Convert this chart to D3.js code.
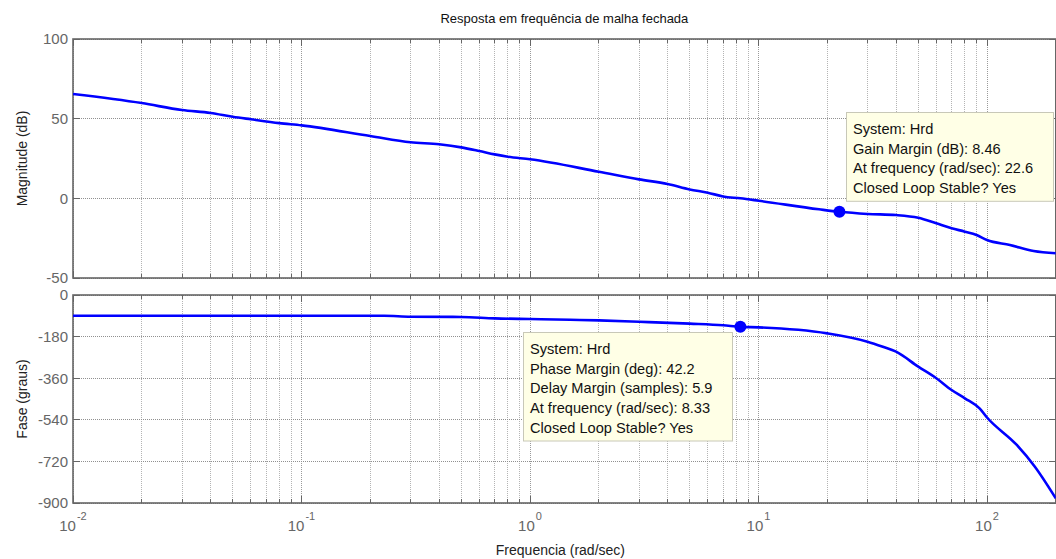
<!DOCTYPE html>
<html>
<head>
<meta charset="utf-8">
<script src="https://cdn.jsdelivr.net/npm/d3@7"></script>
<style>
  html, body { margin: 0; padding: 0; background: #fff; }
  svg { display: block; font-family: "Liberation Sans", Arial, Helvetica, sans-serif; }
</style>
</head>
<body>
<svg id="chart" width="1056" height="559"></svg>
<script>
// Closed-loop frequency response (Bode) of system Hrd
const magFreq  = [0.01, 0.02, 0.03, 0.04, 0.05, 0.06, 0.08, 0.1, 0.2, 0.3, 0.4, 0.5, 0.6, 0.7, 0.8, 1,
                  2, 3, 4, 5, 6, 7, 8.33, 10, 18.4, 22.6, 30, 40, 50, 60, 70, 80, 90, 100, 126, 160, 200];
const magDb    = [65.5, 59.8, 55.4, 53.6, 51.2, 49.6, 47.2, 45.8, 39.1, 35.2, 33.9, 32.0, 29.7, 27.6, 26.1, 24.5,
                  16.7, 11.9, 9.0, 5.6, 3.5, 1.2, 0, -1.5, -6.9, -8.46, -9.8, -10.5, -12.2, -15.7, -18.8, -20.9, -23.0, -26.2, -29.3, -33.1, -34.5];

const phaseFreq = [0.01, 0.1, 0.23, 0.3, 0.5, 0.7, 1, 1.5, 2, 3, 5, 7, 8.33, 10, 20, 30, 35, 40, 50, 60, 70, 80, 93, 100, 135, 162, 200];
const phaseDeg  = [-90, -90, -90, -94, -95, -101, -104, -107, -110, -116, -124, -131, -137.8, -140, -166, -202, -224, -245, -310, -360, -411, -447, -492, -530, -649, -743, -880];

const magTicks   = [-50, 0, 50, 100];
const phaseTicks = [-900, -720, -540, -360, -180, 0];
const decades    = [-2, -1, 0, 1, 2];

const gainMargin  = { freq: 22.6, value: -8.46,
  lines: ["System: Hrd", "Gain Margin (dB): 8.46", "At frequency (rad/sec): 22.6", "Closed Loop Stable? Yes"] };
const phaseMargin = { freq: 8.33, value: -137.8,
  lines: ["System: Hrd", "Phase Margin (deg): 42.2", "Delay Margin (samples): 5.9", "At frequency (rad/sec): 8.33", "Closed Loop Stable? Yes"] };

const titleText = "Resposta em frequência de malha fechada";
const xLabel = "Frequencia  (rad/sec)";
const magLabel = "Magnitude (dB)";
const phaseLabel = "Fase (graus)";

const svg = d3.select("#chart");
const left = 73, right = 1055.8;

const x = d3.scaleLog().domain([0.01, 200]).range([left, right]);
const yMag = d3.scaleLinear().domain([-50, 100]).range([278, 39]);
const yPh  = d3.scaleLinear().domain([-900, 0]).range([503, 295]);

// minor + major log gridlines
const logLines = [];
for (let e = -2; e <= 2; e++) {
  for (let m = 1; m <= 9; m++) {
    const v = m * Math.pow(10, e);
    if (v <= 200) logLines.push({ v, major: m === 1 });
  }
}

function panel(y, ticks, id) {
  const g = svg.append("g");
  const [y0, y1] = y.range(); // bottom, top
  g.append("clipPath").attr("id", id).append("rect")
    .attr("x", left).attr("y", y1).attr("width", right - left).attr("height", y0 - y1);

  // vertical gridlines
  g.selectAll(".vg").data(logLines).join("line")
    .attr("x1", d => x(d.v)).attr("x2", d => x(d.v))
    .attr("y1", y1).attr("y2", y0)
    .attr("stroke", d => d.major ? "#9a9a9a" : "#b4b4b4").attr("stroke-width", 1)
    .attr("stroke-dasharray", "1,1").attr("shape-rendering", "crispEdges");
  // horizontal gridlines
  g.selectAll(".hg").data(ticks).join("line")
    .attr("x1", left).attr("x2", right)
    .attr("y1", d => y(d)).attr("y2", d => y(d))
    .attr("stroke", "#909090").attr("stroke-width", 1)
    .attr("stroke-dasharray", "1,1").attr("shape-rendering", "crispEdges");

  // tick marks on all four sides
  const tk = g.append("g").attr("stroke", "#666").attr("stroke-width", 1).attr("shape-rendering", "crispEdges");
  logLines.forEach(d => {
    const len = d.major ? 7 : 4;
    tk.append("line").attr("x1", x(d.v)).attr("x2", x(d.v)).attr("y1", y1).attr("y2", y1 + len);
    tk.append("line").attr("x1", x(d.v)).attr("x2", x(d.v)).attr("y1", y0).attr("y2", y0 - len);
  });
  ticks.forEach(t => {
    tk.append("line").attr("x1", left).attr("x2", left + 7).attr("y1", y(t)).attr("y2", y(t));
    tk.append("line").attr("x1", right - 7).attr("x2", right).attr("y1", y(t)).attr("y2", y(t));
  });

  // frame
  g.append("rect").attr("x", left).attr("y", y1).attr("width", right - left).attr("height", y0 - y1)
    .attr("fill", "none").attr("stroke", "#666").attr("stroke-width", 1.6);

  // y tick labels
  g.selectAll(".yl").data(ticks).join("text")
    .attr("x", left - 5).attr("y", d => y(d)).attr("dy", "0.36em")
    .attr("text-anchor", "end").attr("font-size", 15).attr("fill", "#666")
    .text(d => d);
  return g;
}

const gMag = panel(yMag, magTicks, "clipMag");
const gPh  = panel(yPh, phaseTicks, "clipPh");

const magLine = d3.line().x(d => x(d[0])).y(d => yMag(d[1])).curve(d3.curveMonotoneX);
const phLine  = d3.line().x(d => x(d[0])).y(d => yPh(d[1])).curve(d3.curveMonotoneX);

gMag.append("path").datum(d3.zip(magFreq, magDb))
  .attr("clip-path", "url(#clipMag)")
  .attr("d", magLine).attr("fill", "none").attr("stroke", "#0000ff").attr("stroke-width", 2.6);
gPh.append("path").datum(d3.zip(phaseFreq, phaseDeg))
  .attr("clip-path", "url(#clipPh)")
  .attr("d", phLine).attr("fill", "none").attr("stroke", "#0000ff").attr("stroke-width", 2.6);

// margin markers
gMag.append("circle").attr("cx", x(gainMargin.freq)).attr("cy", yMag(gainMargin.value)).attr("r", 6).attr("fill", "#0000ff");
gPh.append("circle").attr("cx", x(phaseMargin.freq)).attr("cy", yPh(phaseMargin.value)).attr("r", 6).attr("fill", "#0000ff");

// data-tip boxes
function dataTip(bx, by, w, lines) {
  const g = svg.append("g");
  const lh = 19.7;
  g.append("rect").attr("x", bx + 0.5).attr("y", by + 0.5).attr("width", w).attr("height", lines.length * lh + 10)
    .attr("fill", "#ffffe6").attr("stroke", "#c8c8b8").attr("stroke-width", 1);
  g.selectAll("text").data(lines).join("text")
    .attr("x", bx + 7).attr("y", (d, i) => by + 22 + i * lh)
    .attr("font-size", 14.6).attr("fill", "#111").text(d => d);
}
dataTip(846, 112, 207, gainMargin.lines);
dataTip(523, 332, 209, phaseMargin.lines);

// x tick labels 10^n
decades.forEach(e => {
  const t = svg.append("text").attr("x", x(Math.pow(10, e))).attr("y", 531)
    .attr("text-anchor", "middle").attr("fill", "#666").attr("font-size", 15);
  t.append("tspan").text("10");
  t.append("tspan").attr("font-size", 11).attr("dy", -11).attr("dx", 1).text(e);
});

// titles and axis labels
svg.append("text").attr("x", (left + right) / 2).attr("y", 23).attr("text-anchor", "middle")
  .attr("font-size", 13).attr("fill", "#111").text(titleText);
svg.append("text").attr("x", (left + right) / 2 - 4).attr("y", 555).attr("text-anchor", "middle")
  .attr("font-size", 14).attr("fill", "#222").text(xLabel);
svg.append("text").attr("transform", `translate(27,${(39 + 278) / 2}) rotate(-90)`).attr("text-anchor", "middle")
  .attr("font-size", 14).attr("fill", "#222").text(magLabel);
svg.append("text").attr("transform", `translate(27,${(295 + 503) / 2}) rotate(-90)`).attr("text-anchor", "middle")
  .attr("font-size", 14).attr("fill", "#222").text(phaseLabel);
</script>
</body>
</html>
